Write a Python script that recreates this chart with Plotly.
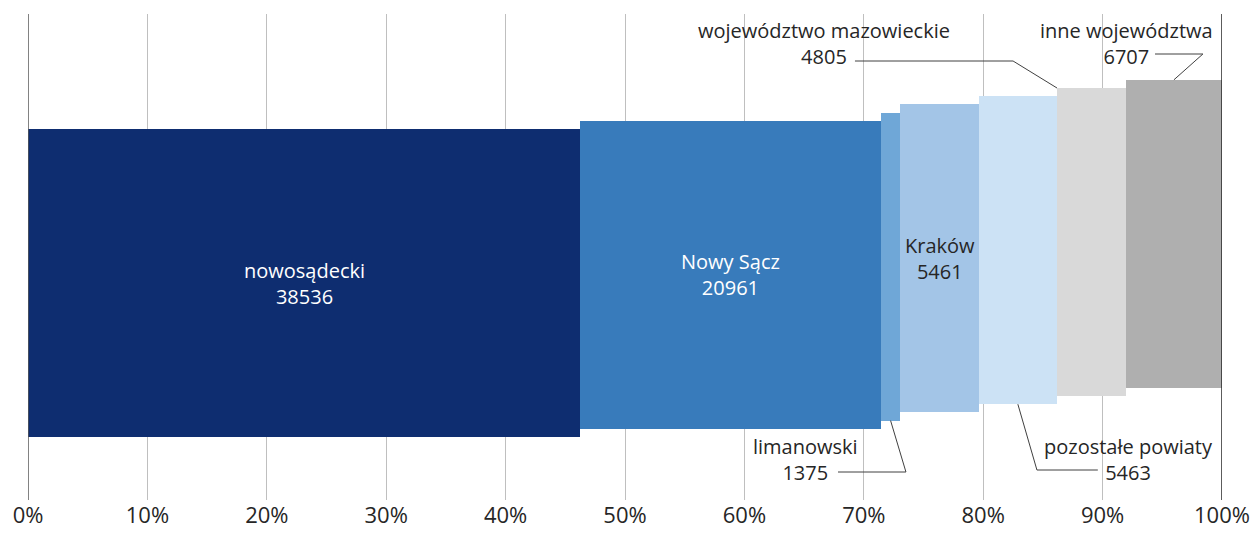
import plotly.graph_objects as go

categories = ["nowosądecki", "Nowy Sącz", "limanowski", "Kraków",
              "pozostałe powiaty", "województwo mazowieckie", "inne województwa"]
values = [38536, 20961, 1375, 5461, 5463, 4805, 6707]
colors = ["#0E2D70", "#387BBB", "#6FA7D7", "#A3C5E7", "#CCE2F5", "#D9D9D9", "#AFAFAF"]
label_colors = ["white", "white", None, "#262626", None, None, None]
tick_vals = [0, 10, 20, 30, 40, 50, 60, 70, 80, 90, 100]

FONT = "Open Sans"
LABEL_SIZE = 20
TEXT_COLOR = "#262626"
total = sum(values)
shares = [v / total * 100 for v in values]
starts = []
acc = 0
for s in shares:
    starts.append(acc)
    acc += s
centers = [st + s / 2 for st, s in zip(starts, shares)]

BAR_H = 308
BASE0 = 63
STEP = 8.2
bases = [BASE0 + i * STEP for i in range(len(values))]
tops = [b + BAR_H for b in bases]

fig = go.Figure()
fig.add_trace(go.Bar(
    x=centers, y=[BAR_H] * len(values), base=bases, width=shares,
    marker=dict(color=colors, line=dict(width=0)),
    hoverinfo="skip", showlegend=False,
))

annotations = []


def label(x, y_mid, name, val, color):
    annotations.append(dict(x=x, y=y_mid, xref="x", yref="y",
                            text=f"{name}<br>{val}", align="center",
                            showarrow=False, xanchor="center", yanchor="middle",
                            font=dict(family=FONT, size=LABEL_SIZE, color=color)))


# inside labels
for i, c in enumerate(label_colors):
    if c is None:
        continue
    label(centers[i], bases[i] + BAR_H / 2, categories[i], values[i], c)

# outside labels with leader lines:
# (index, text x, text mid y, line x start, elbow x, line y, side, target x)
outside = [
    (2, 65.08, 41, 67.84, 73.53, 28, "bottom", centers[2]),
    (4, 92.13, 41, 89.6, 84.5, 30, "bottom", centers[4]),
    (5, 66.67, 457, 69.26, 82.5, 439, "top", starts[5]),
    (6, 91.96, 457, 94.39, 98.4, 446, "top", centers[6]),
]
shapes = []
for i, tx, ty, lx0, lx1, ly, side, tgt_x in outside:
    label(tx, ty, categories[i], values[i], TEXT_COLOR)
    tgt_y = bases[i] if side == "bottom" else tops[i]
    shapes.append(dict(
        type="path", xref="x", yref="y",
        path=f"M {lx0} {ly} L {lx1} {ly} L {tgt_x} {tgt_y}",
        line=dict(color="#404040", width=1),
    ))

shapes.append(dict(type="line", xref="x", yref="paper", x0=0, x1=0, y0=0, y1=1,
                   line=dict(color="#595959", width=1.5), layer="above"))
shapes.append(dict(type="line", xref="x", yref="paper", x0=100, x1=100, y0=0, y1=1,
                   line=dict(color="#262626", width=1.5), layer="above"))

fig.update_layout(
    width=1257, height=533,
    margin=dict(l=28, r=35, t=14, b=33),
    plot_bgcolor="white", paper_bgcolor="white",
    barmode="overlay", bargap=0,
    annotations=annotations, shapes=shapes,
    font=dict(family=FONT, color=TEXT_COLOR),
    xaxis=dict(range=[0, 100], tickvals=tick_vals,
               ticktext=[f"{v}%" for v in tick_vals],
               showgrid=True, gridcolor="#BFBFBF", gridwidth=1,
               zeroline=False, showline=False, automargin=False,
               ticks="", ticklen=0,
               tickfont=dict(family=FONT, size=22, color=TEXT_COLOR)),
    yaxis=dict(range=[0, 486], visible=False, showgrid=False, zeroline=False,
               automargin=False),
)

fig.write_html("out.html", config={"displayModeBar": False},
               post_script="document.body.style.margin='0';document.body.style.overflow='hidden';")
